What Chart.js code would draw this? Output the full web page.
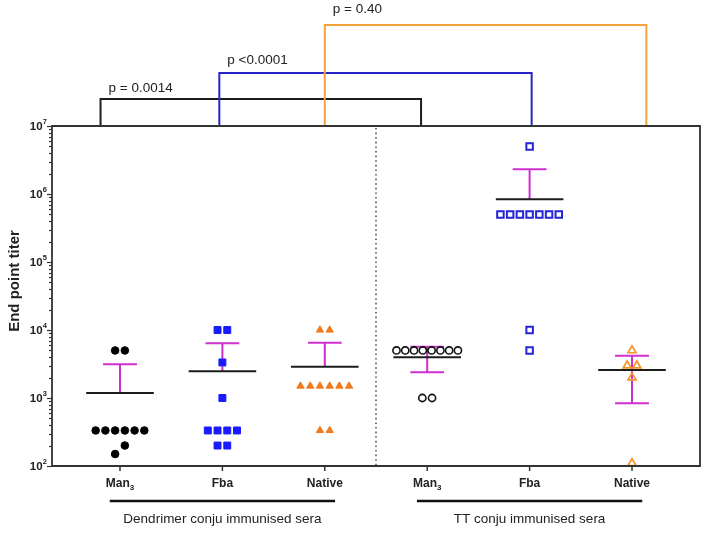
<!DOCTYPE html>
<html>
<head>
<meta charset="utf-8">
<script src="https://cdn.jsdelivr.net/npm/chart.js@4.4.1/dist/chart.umd.min.js"></script>
<style>
  html, body { margin: 0; padding: 0; background: #fff; }
  #wrap { width: 707px; height: 533px; }
</style>
</head>
<body>
<div id="wrap"><canvas id="titerChart" width="707" height="533"></canvas></div>
<script>
// --- data ---
const categories = ['Man3', 'Fba', 'Native', 'Man3', 'Fba', 'Native'];
const groupLabels = ['Dendrimer conju immunised sera', 'TT conju immunised sera'];

const dendrimerMan3 = [5000, 5000, 333, 333, 333, 333, 333, 333, 200, 150];
const dendrimerFba = [10000, 10000, 3333, 1000, 333, 333, 333, 333, 200, 200];
const dendrimerNative = [10000, 10000, 1500, 1500, 1500, 1500, 1500, 1500, 333, 333];
const ttMan3 = [5000, 5000, 5000, 5000, 5000, 5000, 5000, 5000, 1000, 1000];
const ttFba = [5000000, 500000, 500000, 500000, 500000, 500000, 500000, 500000, 10000, 5000];
const ttNative = [5000, 3000, 3000, 2000, 110];

const meanValues = [1180, 2470, 2890, 3970, 836000, 2580];
const sdUpper = [3130, 6370, 6500, 5680, 2310000, 4190];
const sdLower = [null, null, null, 2390, null, 835];

const yDecades = [2, 3, 4, 5, 6, 7];

const pValues = ['p = 0.0014', 'p <0.0001', 'p = 0.40'];
const pFrom = [-0.19, 0.97, 2.0];
const pTo = [2.94, 4.02, 5.14];

// --- styling ---
const FONT = '"Liberation Sans", Arial, Helvetica, sans-serif';
const MAGENTA = '#cf2fcf';
const AXIS = '#333333';
const bracketColors = ['#1e1e1e', '#2626c4', '#f4a23a'];
const bracketTop = [99, 73, 25];
const bracketTextGap = [7, 9, 12];

// spread repeated values sideways like a column scatter plot
function spread(values, center) {
  const sorted = values.slice().sort((a, b) => a - b);
  const out = [];
  let i = 0;
  while (i < sorted.length) {
    let j = i + 1;
    while (j < sorted.length && Math.log10(sorted[j]) - Math.log10(sorted[j - 1]) < 0.15) j++;
    const n = j - i;
    const step = n > 1 ? Math.min(0.095, 0.6 / (n - 1)) : 0;
    for (let k = 0; k < n; k++) {
      out.push({ x: center + (k - (n - 1) / 2) * step, y: sorted[i + k] });
    }
    i = j;
  }
  return out;
}

function meanLines() {
  const pts = [];
  meanValues.forEach((m, i) => {
    pts.push({ x: i - 0.33, y: m }, { x: i + 0.33, y: m }, { x: i, y: null });
  });
  return pts;
}

function errorBars() {
  const pts = [];
  meanValues.forEach((m, i) => {
    [sdUpper[i], sdLower[i]].forEach(end => {
      if (end == null) return;
      pts.push({ x: i, y: m }, { x: i, y: end }, { x: i, y: null });
      pts.push({ x: i - 0.165, y: end }, { x: i + 0.165, y: end }, { x: i, y: null });
    });
  });
  return pts;
}

const pointSets = [
  { data: dendrimerMan3, style: 'circle', r: 3.8, fill: '#000000', stroke: '#000000', bw: 1 },
  { data: dendrimerFba, style: 'rect', r: 4.9, fill: '#1a1aff', stroke: '#1a1aff', bw: 1 },
  { data: dendrimerNative, style: 'triangle', r: 4.2, fill: '#f07a1e', stroke: '#f07a1e', bw: 1 },
  { data: ttMan3, style: 'circle', r: 3.6, fill: 'rgba(0,0,0,0)', stroke: '#111111', bw: 1.6 },
  { data: ttFba, style: 'rect', r: 4.6, fill: 'rgba(0,0,0,0)', stroke: '#2424d8', bw: 2 },
  { data: ttNative, style: 'triangle', r: 4.6, fill: 'rgba(0,0,0,0)', stroke: '#f39426', bw: 1.7 }
];

const datasets = [
  {
    type: 'line', data: errorBars(), showLine: true, spanGaps: false,
    borderColor: MAGENTA, borderWidth: 2, pointRadius: 0, order: 3
  },
  {
    type: 'line', data: meanLines(), showLine: true, spanGaps: false,
    borderColor: '#1c1c1c', borderWidth: 2, pointRadius: 0, order: 2
  }
].concat(pointSets.map((s, i) => ({
  type: 'scatter',
  data: spread(s.data, i),
  pointStyle: s.style,
  pointRadius: s.r,
  pointBackgroundColor: s.fill,
  pointBorderColor: s.stroke,
  pointBorderWidth: s.bw,
  order: 1
})));

const decorPlugin = {
  id: 'decor',
  beforeDatasetsDraw(chart) {
    const { ctx, chartArea: a, scales: { x } } = chart;
    ctx.save();
    ctx.strokeStyle = '#555';
    ctx.lineWidth = 1.6;
    ctx.setLineDash([1.6, 3]);
    const xd = x.getPixelForValue(2.5);
    ctx.beginPath();
    ctx.moveTo(xd, a.top + 2);
    ctx.lineTo(xd, a.bottom);
    ctx.stroke();
    ctx.restore();
  },
  afterDraw(chart) {
    const { ctx, chartArea: a, scales: { x, y } } = chart;
    ctx.save();

    // brackets with p values
    pValues.forEach((txt, i) => {
      const x1 = x.getPixelForValue(pFrom[i]);
      const x2 = x.getPixelForValue(pTo[i]);
      ctx.strokeStyle = bracketColors[i];
      ctx.lineWidth = 2;
      ctx.beginPath();
      ctx.moveTo(x1, a.top);
      ctx.lineTo(x1, bracketTop[i]);
      ctx.lineTo(x2, bracketTop[i]);
      ctx.lineTo(x2, a.top);
      ctx.stroke();
      ctx.fillStyle = '#222';
      ctx.font = '13.5px ' + FONT;
      ctx.textAlign = 'left';
      ctx.textBaseline = 'alphabetic';
      ctx.fillText(txt, x1 + 8, bracketTop[i] - bracketTextGap[i]);
    });

    // frame
    ctx.strokeStyle = AXIS;
    ctx.lineWidth = 1.8;
    ctx.beginPath();
    ctx.moveTo(a.left, a.top);
    ctx.lineTo(a.right, a.top);
    ctx.lineTo(a.right, a.bottom);
    ctx.lineTo(a.left, a.bottom);
    ctx.closePath();
    ctx.stroke();

    // y ticks, major and minor
    ctx.lineWidth = 1.2;
    yDecades.forEach(e => {
      const mults = e === 7 ? [1] : [1, 2, 3, 4, 5, 6, 7, 8, 9];
      mults.forEach(m => {
        const py = Math.round(y.getPixelForValue(m * Math.pow(10, e))) + 0.5;
        const len = m === 1 ? 5 : 3;
        ctx.beginPath();
        ctx.moveTo(a.left - len, py);
        ctx.lineTo(a.left, py);
        ctx.stroke();
      });
    });

    // y tick labels 10^n
    ctx.fillStyle = '#222';
    ctx.textBaseline = 'middle';
    yDecades.forEach(e => {
      const py = y.getPixelForValue(Math.pow(10, e));
      ctx.font = 'bold 7.5px ' + FONT;
      const sup = String(e);
      const supW = ctx.measureText(sup).width;
      const right = a.left - 5;
      ctx.textAlign = 'right';
      ctx.fillText(sup, right, py - 4);
      ctx.font = 'bold 11.5px ' + FONT;
      ctx.fillText('10', right - supW - 0.3, py + 0.5);
    });

    // x ticks and labels
    ctx.lineWidth = 1.5;
    ctx.strokeStyle = AXIS;
    categories.forEach((c, i) => {
      const px = x.getPixelForValue(i);
      ctx.beginPath();
      ctx.moveTo(px, a.bottom);
      ctx.lineTo(px, a.bottom + 5);
      ctx.stroke();
      const m = c.match(/^(.*?)(\d)$/);
      const base = m ? m[1] : c;
      const sub = m ? m[2] : '';
      ctx.font = 'bold 12px ' + FONT;
      const bw = ctx.measureText(base).width;
      ctx.font = 'bold 8px ' + FONT;
      const sw = ctx.measureText(sub).width;
      const startX = px - (bw + sw) / 2;
      ctx.textAlign = 'left';
      ctx.textBaseline = 'middle';
      ctx.font = 'bold 12px ' + FONT;
      ctx.fillText(base, startX, a.bottom + 18);
      if (sub) {
        ctx.font = 'bold 8px ' + FONT;
        ctx.fillText(sub, startX + bw, a.bottom + 22);
      }
    });

    // group underlines and labels
    groupLabels.forEach((g, k) => {
      const c = 1 + k * 3;
      const x1 = x.getPixelForValue(c - 1.1);
      const x2 = x.getPixelForValue(c + 1.1);
      ctx.strokeStyle = '#111';
      ctx.lineWidth = 2.5;
      ctx.beginPath();
      ctx.moveTo(x1, a.bottom + 35);
      ctx.lineTo(x2, a.bottom + 35);
      ctx.stroke();
      ctx.fillStyle = '#222';
      ctx.font = '13.5px ' + FONT;
      ctx.textAlign = 'center';
      ctx.textBaseline = 'middle';
      ctx.fillText(g, x.getPixelForValue(c), a.bottom + 53);
    });

    // y axis title
    ctx.translate(15, 281);
    ctx.rotate(-Math.PI / 2);
    ctx.font = 'bold 15px ' + FONT;
    ctx.fillStyle = '#222';
    ctx.textAlign = 'center';
    ctx.textBaseline = 'middle';
    ctx.fillText('End point titer', 0, 0);
    ctx.restore();
  }
};

new Chart(document.getElementById('titerChart'), {
  type: 'scatter',
  data: { datasets },
  options: {
    responsive: false,
    animation: false,
    layout: { padding: { top: 126, right: 7, left: 0, bottom: 0 } },
    plugins: { legend: { display: false }, tooltip: { enabled: false } },
    scales: {
      x: {
        type: 'linear', min: -0.664, max: 5.664,
        grid: { display: false }, border: { display: false },
        ticks: { display: false },
        afterFit: (s) => { s.height = 67; }
      },
      y: {
        type: 'logarithmic', min: 100, max: 10000000,
        grid: { display: false }, border: { display: false },
        ticks: { display: false },
        afterFit: (s) => { s.width = 52; }
      }
    }
  },
  plugins: [decorPlugin]
});
</script>
</body>
</html>
